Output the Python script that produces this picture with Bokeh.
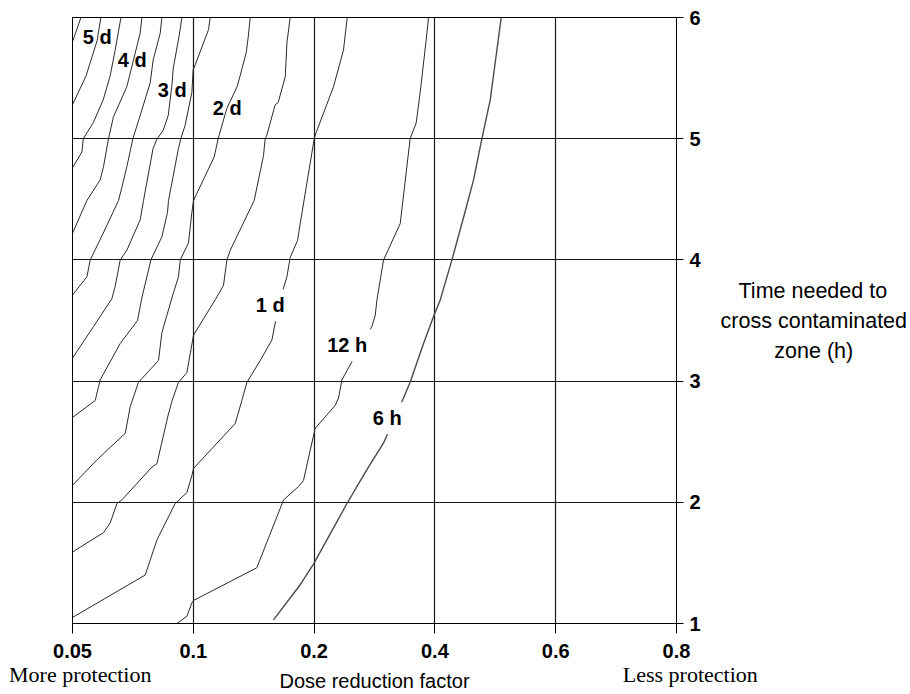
from bokeh.plotting import figure
from bokeh.models import Range1d, FixedTicker, LinearAxis
from bokeh.embed import file_html
from bokeh.resources import INLINE
from bokeh.core.properties import value

# ---- axes ----
drf_tick_labels = ["0.05", "0.1", "0.2", "0.4", "0.6", "0.8"]   # equally spaced positions 0..5
hour_ticks = [1, 2, 3, 4, 5, 6]
NB = "\u00a0"
end_notes = {0.064: "More protection", 5.0: NB * 5 + "Less protection"}
y_title_lines = [NB * 3 + "Time needed to", "cross contaminated", NB * 9 + "zone (h)"]

# ---- contour lines: x = position on the dose-reduction-factor scale (0 -> 0.05 ... 5 -> 0.8), y = hours ----
c55d_x = [0.070, 0.0]
c55d_y = [6.0, 5.80]
c5d_x = [0.235, 0.204, 0.113, 0.0]
c5d_y = [6.0, 5.81, 5.52, 5.28]
c45d_x = [0.401, 0.353, 0.312, 0.254, 0.171, 0.089, 0.078, 0.0]
c45d_y = [6.0, 5.73, 5.52, 5.32, 5.13, 5.00, 4.89, 4.76]
c4d_x = [0.575, 0.560, 0.505, 0.450, 0.339, 0.298, 0.257, 0.229, 0.119, 0.0]
c4d_y = [6.0, 5.87, 5.65, 5.43, 5.18, 5.00, 4.77, 4.66, 4.49, 4.22]
c35d_x = [0.740, 0.726, 0.668, 0.643, 0.575, 0.500, 0.450, 0.409, 0.381, 0.254, 0.147, 0.119, 0.0]
c35d_y = [6.0, 5.87, 5.65, 5.46, 5.24, 5.00, 4.77, 4.60, 4.49, 4.22, 4.00, 3.86, 3.71]
c3d_x = [0.906, 0.883, 0.834, 0.823, 0.792, 0.751, 0.701, 0.667, 0.588, 0.560, 0.450, 0.395, 0.353, 0.326, 0.174, 0.0]
c3d_y = [6.0, 5.85, 5.58, 5.44, 5.19, 5.07, 5.00, 4.92, 4.49, 4.33, 4.08, 4.00, 3.78, 3.68, 3.45, 3.19]
c25d_x = [1.140, 1.126, 1.016, 0.999, 0.988, 0.932, 0.897, 0.877, 0.795, 0.786, 0.740, 0.649, 0.575, 0.538, 0.395, 0.229, 0.188, 0.0]
c25d_y = [6.0, 5.90, 5.61, 5.57, 5.38, 5.11, 5.00, 4.92, 4.49, 4.39, 4.19, 4.00, 3.69, 3.50, 3.31, 3.01, 2.84, 2.70]
c2d_x = [1.471, 1.455, 1.438, 1.388, 1.363, 1.278, 1.237, 1.206, 1.173, 1.002, 0.988, 0.960, 0.892, 0.877, 0.836,
         0.740, 0.712, 0.546, 0.478, 0.437, 0.202, 0.0]
c2d_y = [6.0, 5.84, 5.71, 5.52, 5.43, 5.25, 5.11, 5.00, 4.85, 4.49, 4.39, 4.14, 4.00, 3.86, 3.73,
         3.40, 3.17, 2.99, 2.79, 2.57, 2.35, 2.14]
c15d_x = [1.802, 1.775, 1.761, 1.703, 1.678, 1.609, 1.595, 1.581, 1.504, 1.306, 1.278, 1.250, 1.181, 1.002, 0.947,
          0.877, 0.825, 0.792, 0.699, 0.657, 0.409, 0.368, 0.312, 0.257, 0.0]
c15d_y = [6.0, 5.79, 5.51, 5.30, 5.28, 5.03, 5.00, 4.86, 4.49, 4.08, 4.00, 3.79, 3.67, 3.38, 3.07,
          2.99, 2.84, 2.72, 2.32, 2.29, 2.02, 1.99, 1.83, 1.75, 1.59]
c1d_x = [2.274, 2.243, 2.161, 2.017, 2.001, 1.885, 1.863, 1.802, 1.775, 1.747, 1.678, 1.651, 1.554, 1.444, 1.402,
         1.347, 1.002, 0.988, 0.947, 0.850, 0.699, 0.602, 0.0]
c1d_y = [6.0, 5.73, 5.43, 5.05, 5.00, 4.30, 4.16, 4.02, 3.86, 3.77, 3.48, 3.34, 3.17, 2.99, 2.84,
         2.65, 2.28, 2.22, 2.08, 1.99, 1.69, 1.40, 1.05]
c12h_x = [2.947, 2.934, 2.878, 2.845, 2.795, 2.713, 2.575, 2.520, 2.506, 2.478, 2.313, 2.230, 2.202, 2.175, 2.009,
          1.968, 1.912, 1.871, 1.747, 1.526, 1.002, 0.988, 0.947, 0.864]
c12h_y = [6.0, 5.87, 5.38, 5.13, 5.00, 4.30, 4.00, 3.67, 3.54, 3.45, 3.16, 3.01, 2.86, 2.80, 2.61,
          2.43, 2.18, 2.13, 2.02, 1.46, 1.19, 1.17, 1.06, 1.0]
c6h_x = [3.549, 3.513, 3.458, 3.389, 3.320, 3.237, 3.141, 3.044, 2.988, 2.906, 2.795, 2.727, 2.575, 2.437, 2.272,
         1.995, 1.885, 1.664]
c6h_y = [6.0, 5.73, 5.32, 5.00, 4.66, 4.35, 4.00, 3.67, 3.53, 3.31, 2.99, 2.83, 2.49, 2.27, 1.99,
         1.49, 1.32, 1.03]

# ---- contour labels ----
lab_text = ["5 d", "4 d", "3 d", "2 d", "1 d", "12 h", "6 h"]
lab_x = [0.205, 0.495, 0.825, 1.281, 1.637, 2.274, 2.605]
lab_y = [5.837, 5.648, 5.400, 5.252, 3.626, 3.296, 2.694]
boxed_x = [1.637, 2.274, 2.605]
boxed_y = [3.626, 3.296, 2.694]

FONT = "Liberation Sans"
SERIF = "Liberation Serif"

p = figure(frame_width=604, frame_height=606,
           x_range=Range1d(0, 5), y_range=Range1d(1, 6),
           x_axis_location="below", y_axis_location="right",
           output_backend="svg", toolbar_location=None,
           min_border_left=72, min_border_top=17, min_border_right=234, min_border_bottom=70,
           background_fill_color="white", border_fill_color="white")
p.outline_line_color = "black"
p.outline_line_width = 1

# grids
p.xgrid.ticker = FixedTicker(ticks=list(range(len(drf_tick_labels))))
p.ygrid.ticker = FixedTicker(ticks=hour_ticks)
for g in (p.xgrid, p.ygrid):
    g.grid_line_color = "black"
    g.grid_line_width = 1.2
    g.grid_line_alpha = 0.9

# x axis (numbers)
xa = p.xaxis[0]
xa.ticker = FixedTicker(ticks=list(range(len(drf_tick_labels))))
xa.major_label_overrides = {i: s for i, s in enumerate(drf_tick_labels)}
xa.major_tick_in = 0
xa.major_tick_out = 10
xa.minor_tick_line_color = None
xa.axis_line_color = "black"
xa.major_tick_line_color = "black"
xa.major_label_text_font = FONT
xa.major_label_text_font_style = "bold"
xa.major_label_text_font_size = "20px"
xa.major_label_text_color = "black"
xa.major_label_standoff = 10

# second x axis: end notes + axis title on the same row
xb = LinearAxis(ticker=FixedTicker(ticks=list(end_notes.keys())),
                major_label_overrides=dict(end_notes))
xb.major_tick_in = 0
xb.major_tick_out = 0
xb.minor_tick_line_color = None
xb.major_tick_line_color = None
xb.axis_line_color = None
xb.major_label_standoff = 1
xb.major_label_text_font = SERIF
xb.major_label_text_font_size = "22px"
xb.major_label_text_color = "black"
xb.axis_label = "Dose reduction factor"
xb.axis_label_text_font = FONT
xb.axis_label_text_font_style = "normal"
xb.axis_label_text_font_size = "20px"
xb.axis_label_text_color = "black"
xb.axis_label_standoff = -20
p.add_layout(xb, "below")

# y axis (right)
ya = p.yaxis[0]
ya.ticker = FixedTicker(ticks=hour_ticks)
ya.major_tick_in = 0
ya.major_tick_out = 7
ya.minor_tick_line_color = None
ya.axis_line_color = "black"
ya.major_tick_line_color = "black"
ya.major_label_text_font = FONT
ya.major_label_text_font_style = "bold"
ya.major_label_text_font_size = "20px"
ya.major_label_text_color = "black"
ya.major_label_standoff = 6
ya.axis_label = "\n".join(y_title_lines)
ya.axis_label_text_font = FONT
ya.axis_label_text_font_style = "normal"
ya.axis_label_text_font_size = "21.5px"
ya.axis_label_text_line_height = 1.25
ya.axis_label_text_color = "black"
ya.axis_label_standoff = 17
try:
    ya.axis_label_orientation = "horizontal"
except Exception:
    pass

# contour lines
thin = [(c55d_x, c55d_y), (c5d_x, c5d_y), (c45d_x, c45d_y), (c4d_x, c4d_y), (c35d_x, c35d_y),
        (c3d_x, c3d_y), (c25d_x, c25d_y), (c2d_x, c2d_y), (c15d_x, c15d_y), (c1d_x, c1d_y),
        (c12h_x, c12h_y)]
for xs, ys in thin:
    p.line(xs, ys, line_color="#2a2a2a", line_width=1)
p.line(c6h_x, c6h_y, line_color="#4a4a4a", line_width=1.4)

# label background boxes and label texts
p.rect(x=boxed_x, y=boxed_y, width=50, height=32, width_units="screen", height_units="screen",
       fill_color="white", line_color=None)
p.text(x=lab_x, y=lab_y, text=lab_text, text_align="center", text_baseline="middle",
       text_font=value(FONT), text_font_style="bold", text_font_size="20px", text_color="black")

open("out.html", "w").write(file_html(p, INLINE))
